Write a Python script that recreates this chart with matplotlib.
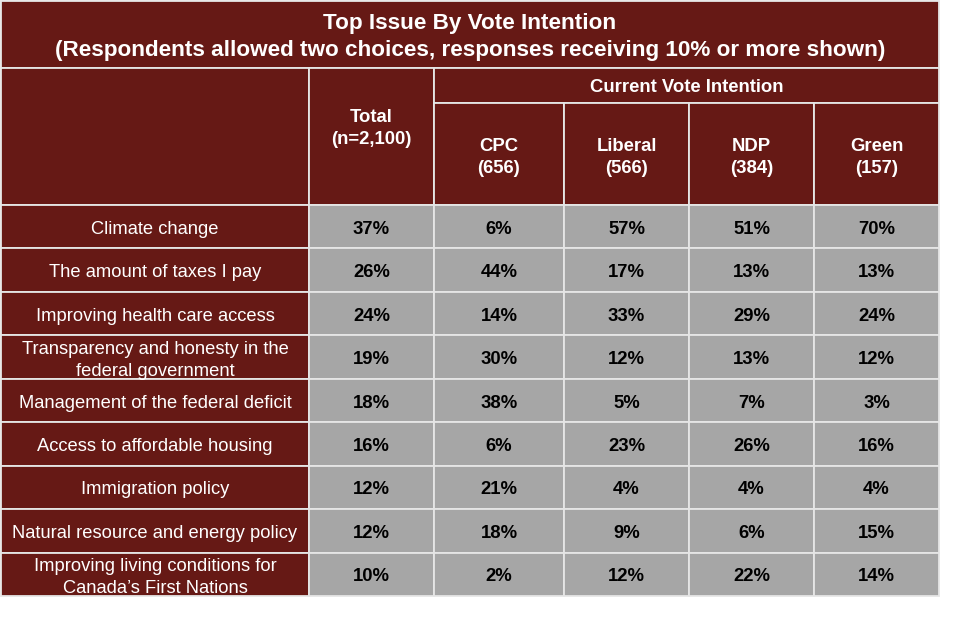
import matplotlib
matplotlib.use("Agg")
import matplotlib.pyplot as plt
from matplotlib.patches import Rectangle

title_lines = ["Top Issue By Vote Intention",
               "(Respondents allowed two choices, responses receiving 10% or more shown)"]
group_label = "Current Vote Intention"
col_headers = ["Total\n(n=2,100)", "CPC\n(656)", "Liberal\n(566)", "NDP\n(384)", "Green\n(157)"]
issues = ["Climate change",
          "The amount of taxes I pay",
          "Improving health care access",
          "Transparency and honesty in the\nfederal government",
          "Management of the federal deficit",
          "Access to affordable housing",
          "Immigration policy",
          "Natural resource and energy policy",
          "Improving living conditions for\nCanada\u2019s First Nations"]
total = [37, 26, 24, 19, 18, 16, 12, 12, 10]
cpc = [6, 44, 14, 30, 38, 6, 21, 18, 2]
liberal = [57, 17, 33, 12, 5, 23, 4, 9, 12]
ndp = [51, 13, 29, 13, 7, 26, 4, 6, 22]
green = [70, 13, 24, 12, 3, 16, 4, 15, 14]

RED = "#661915"
GRAY = "#A6A6A6"
EDGE = "#E6E6E6"
FONT = "Liberation Sans"

fig = plt.figure(figsize=(9.6, 6.43), dpi=100)
ax = fig.add_axes([0, 0, 1, 1])
ax.set_xlim(0, 960)
ax.set_ylim(643, 0)
ax.axis("off")

col_x = [1, 309, 434, 564, 689, 814, 939]
top, title_bottom, group_bottom, header_bottom, table_bottom = 1, 68, 103, 205, 596
n = len(issues)
row_h = (table_bottom - header_bottom) / n

def rect(x0, y0, x1, y1, fc):
    ax.add_patch(Rectangle((x0, y0), x1 - x0, y1 - y0, facecolor=fc,
                           edgecolor=EDGE, linewidth=1.3))

# title
rect(col_x[0], top, col_x[-1], title_bottom, RED)
ax.text((col_x[0] + col_x[-1]) / 2, 37, "\n".join(title_lines),
        ha="center", va="center", color="white", fontsize=16.2, fontweight="bold",
        family=FONT, linespacing=1.42)

# header
rect(col_x[0], title_bottom, col_x[1], header_bottom, RED)
rect(col_x[1], title_bottom, col_x[2], header_bottom, RED)
ax.text((col_x[1] + col_x[2]) / 2, 128.5, col_headers[0], ha="center", va="center",
        color="white", fontsize=13.3, fontweight="bold", family=FONT, linespacing=1.4)
rect(col_x[2], title_bottom, col_x[-1], group_bottom, RED)
ax.text((col_x[2] + col_x[-1]) / 2, 88, group_label,
        ha="center", va="center", color="white", fontsize=13.3, fontweight="bold", family=FONT)
for j in range(1, 5):
    x0, x1 = col_x[j + 1], col_x[j + 2]
    rect(x0, group_bottom, x1, header_bottom, RED)
    ax.text((x0 + x1) / 2, 157.5, col_headers[j], ha="center", va="center",
            color="white", fontsize=13.3, fontweight="bold", family=FONT, linespacing=1.4)

# body
cols = [total, cpc, liberal, ndp, green]
for i, issue in enumerate(issues):
    y0 = header_bottom + i * row_h
    y1 = y0 + row_h
    yc = (y0 + y1) / 2
    off = 3 if "\n" in issue else 2.5
    rect(col_x[0], y0, col_x[1], y1, RED)
    ax.text((col_x[0] + col_x[1]) / 2, yc + off, issue, ha="center", va="center",
            color="white", fontsize=13.2, family=FONT, linespacing=1.38)
    for j, vals in enumerate(cols):
        x0, x1 = col_x[j + 1], col_x[j + 2]
        rect(x0, y0, x1, y1, GRAY)
        ax.text((x0 + x1) / 2, yc + 2.5, f"{vals[i]}%", ha="center", va="center",
                color="black", fontsize=13.3, fontweight="bold", family=FONT)

fig.savefig("out.png", dpi=100, facecolor="white")
